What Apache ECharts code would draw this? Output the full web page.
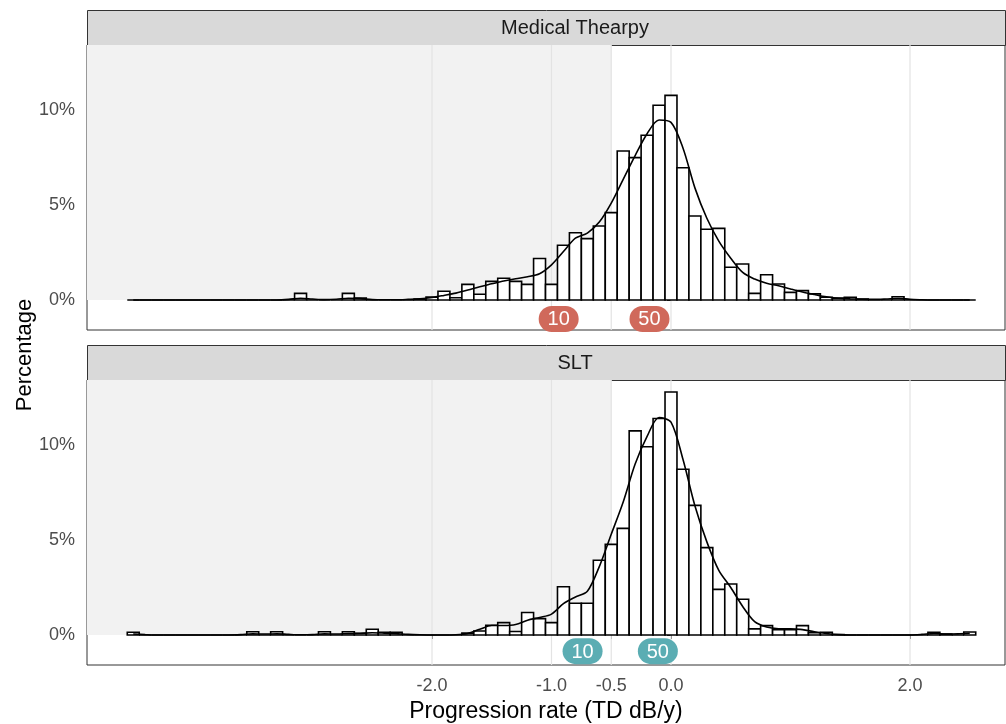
<!DOCTYPE html>
<html>
<head>
<meta charset="utf-8">
<script src="https://cdn.jsdelivr.net/npm/echarts@6/dist/echarts.min.js"></script>
<style>
  html, body { margin: 0; padding: 0; background: #fff; }
  #chart { width: 1006px; height: 724px; }
</style>
</head>
<body>
<div id="chart"></div>
<script>
// histogram bins: width 0.1, centres from -4.5 to 2.5
var binWidth = 0.1;
var binStart = -4.5;
var binCount = 71;

var panelNames = ['Medical Thearpy', 'SLT'];

// percentage per bin, Medical therapy (rows of 10 bins)
var histMedical = [
  0, 0, 0, 0, 0, 0, 0, 0, 0, 0,
  0, 0, 0, 0, 0.35, 0, 0, 0, 0.35, 0.10,
  0, 0, 0, 0, 0.05, 0.15, 0.46, 0.12, 0.82, 0.30,
  0.98, 1.14, 0.98, 0.82, 2.18, 0.82, 2.88, 3.54, 3.23, 3.89,
  4.60, 7.84, 7.49, 8.67, 10.25, 10.77, 6.96, 4.42, 3.72, 3.77,
  1.72, 1.89, 0.35, 1.33, 0.84, 0.40, 0.49, 0.32, 0.14, 0.10,
  0.14, 0.05, 0, 0, 0.17, 0, 0, 0, 0, 0,
  0
];

// percentage per bin, SLT
var histSLT = [
  0.14, 0, 0, 0, 0, 0, 0, 0, 0, 0,
  0.17, 0, 0.17, 0, 0, 0, 0.17, 0, 0.17, 0.09,
  0.30, 0.14, 0.14, 0, 0, 0, 0, 0, 0.10, 0.21,
  0.51, 0.65, 0.18, 1.18, 0.86, 0.65, 2.54, 1.67, 1.67, 3.93,
  4.77, 5.61, 10.74, 9.91, 11.39, 12.79, 8.72, 6.82, 4.60, 2.40,
  2.68, 1.88, 0.32, 0.49, 0.28, 0.28, 0.49, 0.12, 0.14, 0.02,
  0, 0, 0, 0, 0, 0, 0, 0.14, 0.05, 0,
  0.16
];

// density curve (scaled to percent), read at bin centres
var densMedical = [
  0, 0, 0, 0, 0, 0, 0, 0, 0, 0,
  0, 0, 0, 0.03, 0.09, 0.05, 0.02, 0.04, 0.09, 0.07,
  0.02, 0.01, 0.01, 0.03, 0.06, 0.13, 0.24, 0.36, 0.52, 0.70,
  0.85, 1.00, 1.12, 1.22, 1.38, 1.85, 2.55, 3.25, 3.52, 4.10,
  5.10, 6.35, 7.60, 8.75, 9.47, 9.35, 8.00, 5.90, 4.30, 3.10,
  2.20, 1.45, 1.10, 0.88, 0.75, 0.58, 0.42, 0.29, 0.17, 0.09,
  0.06, 0.04, 0.03, 0.05, 0.08, 0.04, 0.01, 0, 0, 0,
  0
];

var densSLT = [
  0.05, 0.02, 0, 0, 0, 0, 0, 0, 0, 0.02,
  0.06, 0.05, 0.06, 0.03, 0.01, 0.02, 0.06, 0.05, 0.07, 0.08,
  0.12, 0.10, 0.07, 0.03, 0.01, 0, 0, 0.01, 0.08, 0.30,
  0.50, 0.50, 0.55, 0.78, 0.92, 1.10, 1.65, 2.00, 2.30, 3.60,
  5.30, 7.00, 9.00, 10.45, 11.45, 11.20, 9.25, 6.80, 4.90, 3.40,
  2.50, 1.50, 0.70, 0.42, 0.33, 0.32, 0.28, 0.17, 0.08, 0.02,
  0, 0, 0, 0, 0, 0, 0.03, 0.08, 0.05, 0.06,
  0.09
];

// percentile markers (10th, 50th) per panel
var pctNames = ['10', '50'];
var pctMedical = [-0.94, -0.18];
var pctSLT = [-0.74, -0.11];
var pctLabelY = [-1.0, -0.85];
var pctColors = ['#D0695B', '#5BADB3'];

var xTicks = [-2, -1, -0.5, 0, 2];
var yTicks = [0, 5, 10];
var shadeEnd = -0.5;

var xMin = -4.887, xMax = 2.795;
var yMin = -1.58, yMax = 13.42;

var FONT = '"Liberation Sans", Arial, sans-serif';

var chart = echarts.init(document.getElementById('chart'));

var binCentres = [];
for (var i = 0; i < binCount; i++) binCentres.push(+(binStart + i * binWidth).toFixed(2));

function pairs(vals) {
  return binCentres.map(function (c, i) { return [c, vals[i]]; });
}

var grids = [
  { left: 87, top: 45, width: 918, height: 285, show: true, backgroundColor: '#fff', borderColor: '#333', borderWidth: 1 },
  { left: 87, top: 380, width: 918, height: 285, show: true, backgroundColor: '#fff', borderColor: '#333', borderWidth: 1 }
];

var xAxes = [0, 1].map(function (g) {
  return {
    type: 'value', gridIndex: g, min: xMin, max: xMax,
    splitLine: { show: false },
    axisLine: { show: false },
    axisTick: { show: g === 1, customValues: xTicks, length: 4, lineStyle: { color: '#333' } },
    axisLabel: {
      show: g === 1, customValues: xTicks, color: '#4D4D4D', fontSize: 18, fontFamily: FONT, margin: 12,
      formatter: function (v) { return v.toFixed(1); }
    },
    name: g === 1 ? 'Progression rate (TD dB/y)' : '',
    nameLocation: 'middle', nameGap: 35,
    nameTextStyle: { color: '#000', fontSize: 23, fontFamily: FONT }
  };
});

var yAxes = [0, 1].map(function (g) {
  return {
    type: 'value', gridIndex: g, min: yMin, max: yMax,
    splitLine: { show: false },
    axisLine: { show: false },
    axisTick: { show: true, customValues: yTicks, length: 4, lineStyle: { color: '#333' } },
    axisLabel: {
      customValues: yTicks, color: '#4D4D4D', fontSize: 18, fontFamily: FONT, margin: 12,
      formatter: function (v) { return v + '%'; }
    }
  };
});

function gridRender(params, api) {
  var v = api.value(0);
  var a = api.coord([v, yMin]);
  var b = api.coord([v, yMax]);
  return {
    type: 'line',
    shape: { x1: a[0], y1: a[1], x2: b[0], y2: b[1] },
    style: { stroke: '#E3E3E3', lineWidth: 1.2 }
  };
}

function histRender(params, api) {
  var c = api.value(0), h = api.value(1);
  var p0 = api.coord([c - binWidth / 2, h]);
  var p1 = api.coord([c + binWidth / 2, 0]);
  return {
    type: 'rect',
    shape: { x: p0[0], y: p0[1], width: p1[0] - p0[0], height: p1[1] - p0[1] },
    style: { fill: '#fff', stroke: '#000', lineWidth: 1.6 }
  };
}

function labelRender(params, api) {
  var p = api.coord([api.value(0), api.value(1)]);
  var w = 40, h = 26;
  return {
    type: 'group',
    children: [
      { type: 'rect', shape: { x: p[0] - w / 2, y: p[1] - h / 2, width: w, height: h, r: 13 },
        style: { fill: api.value(3) } },
      { type: 'text', x: p[0], y: p[1] + 1,
        style: { text: api.value(2), fill: '#fff', fontSize: 20, fontFamily: FONT, align: 'center', verticalAlign: 'middle' } }
    ]
  };
}

var series = [];
[[histMedical, densMedical, pctMedical], [histSLT, densSLT, pctSLT]].forEach(function (d, g) {
  // shaded region left of -0.5, above zero
  series.push({
    type: 'line', xAxisIndex: g, yAxisIndex: g, data: [], silent: true, z: 0,
    markArea: {
      silent: true,
      itemStyle: { color: '#F2F2F2' },
      data: [[{ coord: [xMin, 0] }, { coord: [shadeEnd, yMax] }]]
    }
  });
  // vertical grid lines, behind the bars
  series.push({
    type: 'custom', xAxisIndex: g, yAxisIndex: g, z: 1, silent: true,
    renderItem: gridRender, data: xTicks.map(function (v) { return [v]; })
  });
  series.push({
    type: 'custom', xAxisIndex: g, yAxisIndex: g, z: 2,
    renderItem: histRender, data: pairs(d[0]), clip: true
  });
  series.push({
    type: 'line', xAxisIndex: g, yAxisIndex: g, z: 3,
    data: pairs(d[1]), smooth: 0.3, symbol: 'none',
    lineStyle: { color: '#000', width: 1.6 }
  });
  series.push({
    type: 'custom', xAxisIndex: g, yAxisIndex: g, z: 4,
    renderItem: labelRender, clip: false,
    data: d[2].map(function (x, i) { return [x, pctLabelY[g], pctNames[i], pctColors[g]]; })
  });
});

var graphics = [];
[10, 345].forEach(function (top, g) {
  graphics.push({
    type: 'rect', left: 87, top: top,
    shape: { width: 918, height: 35 },
    style: { fill: '#D9D9D9', stroke: '#333', lineWidth: 1 }
  });
  graphics.push({
    type: 'text', x: 575, y: top + 18,
    style: { text: panelNames[g], fill: '#1A1A1A', fontSize: 20, fontFamily: FONT, align: 'center', verticalAlign: 'middle' }
  });
});
graphics.push({
  type: 'text', x: 25, y: 355, rotation: Math.PI / 2,
  style: { text: 'Percentage', fill: '#000', fontSize: 22, fontFamily: FONT, align: 'center', verticalAlign: 'middle' }
});

chart.setOption({
  animation: false,
  grid: grids,
  xAxis: xAxes,
  yAxis: yAxes,
  series: series,
  graphic: graphics
});
</script>
</body>
</html>
